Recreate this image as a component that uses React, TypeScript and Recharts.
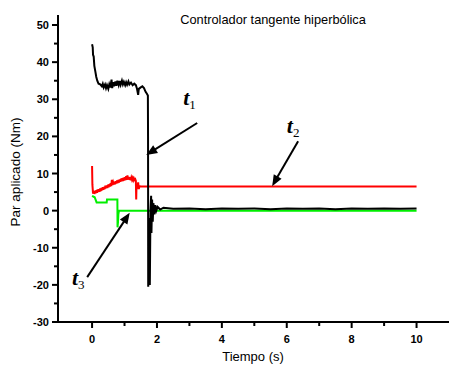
import React from "react";
import { LineChart, Line, XAxis, YAxis, ReferenceLine, ReferenceDot } from "recharts";

// Par aplicado t1 (negro)
const t1Time = [
  0.0, 0.02, 0.03, 0.05, 0.07, 0.1, 0.13, 0.16, 0.2, 0.25,
  0.3, 0.33, 0.36, 0.4, 0.43, 0.46, 0.5, 0.53, 0.56, 0.6,
  0.62, 0.65, 0.68, 0.72, 0.75, 0.78, 0.82, 0.85, 0.88, 0.92,
  0.95, 0.98, 1.02, 1.05, 1.08, 1.12, 1.15, 1.2, 1.25, 1.3,
  1.35, 1.38, 1.42, 1.44, 1.5, 1.55, 1.6, 1.65, 1.69, 1.72,
  1.725, 1.73, 1.74, 1.75, 1.76, 1.78, 1.8, 1.82, 1.83, 1.85,
  1.87, 1.89, 1.92, 1.95, 1.98, 2.02, 2.1, 2.2, 2.5, 3.0,
  3.5, 4.0, 4.5, 5.0, 5.5, 6.0, 6.5, 7.0, 7.5, 8.0,
  8.5, 9.0, 9.5, 10.0,
];
const t1Value = [
  44.8, 44.0, 42.0, 41.5, 39.0, 37.5, 36.0, 35.0, 34.2, 34.0,
  33.5, 34.2, 33.2, 34.0, 33.0, 33.8, 32.8, 34.0, 33.2, 35.3,
  33.0, 34.6, 33.5, 34.8, 33.6, 35.0, 33.8, 34.9, 33.9, 35.0,
  34.0, 34.7, 33.8, 34.6, 33.9, 34.8, 34.0, 34.5, 33.8, 34.2,
  33.8, 33.0, 31.2, 32.8, 33.2, 33.5, 33.0, 32.0, 31.5, 31.0,
  20.0, -20.5, -19.0, -20.0, -2.0, -20.0, 0.0, 4.0, -6.0, 3.0,
  -3.0, 2.0, -1.0, 1.5, 0.0, 1.0, 0.3, 0.8, 0.5, 0.6,
  0.4, 0.6, 0.5, 0.6, 0.4, 0.6, 0.5, 0.6, 0.4, 0.6,
  0.5, 0.6, 0.5, 0.6,
];

// Par aplicado t2 (rojo)
const t2Time = [
  0.0, 0.01, 0.03, 0.05, 0.07, 0.09, 0.11, 0.13, 0.15, 0.17,
  0.19, 0.21, 0.23, 0.25, 0.27, 0.29, 0.31, 0.33, 0.35, 0.37,
  0.39, 0.41, 0.43, 0.45, 0.47, 0.49, 0.51, 0.53, 0.55, 0.57,
  0.59, 0.61, 0.63, 0.65, 0.67, 0.69, 0.71, 0.73, 0.75, 0.77,
  0.79, 0.81, 0.83, 0.85, 0.87, 0.89, 0.91, 0.93, 0.95, 0.97,
  0.99, 1.01, 1.03, 1.05, 1.07, 1.09, 1.11, 1.13, 1.15, 1.17,
  1.19, 1.21, 1.23, 1.25, 1.27, 1.29, 1.31, 1.33, 1.35, 1.36,
  1.37, 1.4, 1.42, 1.44, 1.46, 1.5, 10.0,
];
const t2Value = [
  12.0, 7.0, 4.6, 5.4, 4.5, 5.3, 4.7, 5.5, 4.8, 5.7,
  5.0, 5.8, 5.1, 6.0, 5.3, 6.1, 5.5, 6.3, 5.6, 6.4,
  5.8, 6.7, 6.0, 6.8, 6.1, 7.0, 6.3, 7.1, 6.5, 7.4,
  6.6, 8.3, 6.9, 7.6, 7.0, 7.8, 7.1, 7.9, 7.3, 8.1,
  7.4, 8.3, 7.6, 8.4, 7.8, 8.6, 7.9, 8.7, 8.0, 8.9,
  8.1, 9.0, 8.2, 9.3, 8.3, 9.5, 8.4, 9.1, 8.3, 9.0,
  8.2, 8.9, 8.3, 8.8, 8.2, 8.7, 8.3, 8.5, 8.0, 3.0,
  7.0, 6.5, 7.6, 5.8, 6.6, 6.5, 6.5,
];

// Par aplicado t3 (verde)
const t3Time = [0.0, 0.08, 0.14, 0.45, 0.46, 0.78, 0.785, 0.8, 0.81, 0.83, 10.0];
const t3Value = [4.0, 3.6, 2.2, 2.2, 3.0, 3.0, -4.5, -3.0, -1.0, 0.0, 0.0];

const xTicks = [0, 1, 2, 3, 4, 5, 6, 7, 8, 9, 10];
const yTicks = [-30, -25, -20, -15, -10, -5, 0, 5, 10, 15, 20, 25, 30, 35, 40, 45, 50];

const toPoints = (ts: number[], vs: number[]) => ts.map((t, i) => ({ t, v: vs[i] }));
const seriesT1 = toPoints(t1Time, t1Value);
const seriesT2 = toPoints(t2Time, t2Value);
const seriesT3 = toPoints(t3Time, t3Value);

// Annotation arrows: [from, to] in data units, plus label anchor
const arrows = [
  { name: "1", from: { t: 3.24, v: 23.6 }, to: { t: 1.67, v: 15.0 }, label: { t: 2.81, v: 28.5 } },
  { name: "2", from: { t: 6.35, v: 18.7 }, to: { t: 5.55, v: 6.6 }, label: { t: 6.0, v: 20.8 } },
  { name: "3", from: { t: -0.15, v: -17.9 }, to: { t: 1.16, v: -0.6 }, label: { t: -0.62, v: -20.0 } },
];

const tickFont = "'Liberation Sans', Arial, sans-serif";

const XTick = (props: any) => {
  const { x, y, payload } = props;
  const major = payload.value % 2 === 0;
  return (
    <g>
      <line x1={x} x2={x} y1={y} y2={y + (major ? 6 : 4)} stroke="#000" strokeWidth={2} />
      {major && (
        <text x={x} y={y + 21} textAnchor="middle" fontFamily={tickFont} fontSize={11} fontWeight="bold" fill="#000">
          {payload.value}
        </text>
      )}
    </g>
  );
};

const YTick = (props: any) => {
  const { x, y, payload } = props;
  const major = payload.value % 10 === 0;
  return (
    <g>
      <line x1={x} x2={x - (major ? 6 : 4)} y1={y} y2={y} stroke="#000" strokeWidth={2} />
      {major && (
        <text x={x - 9} y={y + 4} textAnchor="end" fontFamily={tickFont} fontSize={11} fontWeight="bold" fill="#000">
          {payload.value}
        </text>
      )}
    </g>
  );
};

const ArrowShape = (props: any) => {
  const { x1, y1, x2, y2 } = props;
  if ([x1, y1, x2, y2].some((n) => typeof n !== "number" || isNaN(n))) return null;
  const dx = x2 - x1;
  const dy = y2 - y1;
  const len = Math.sqrt(dx * dx + dy * dy);
  const ux = dx / len;
  const uy = dy / len;
  const head = 11;
  const half = 4.5;
  const bx = x2 - ux * head;
  const by = y2 - uy * head;
  const pts = `${x2},${y2} ${bx - uy * half},${by + ux * half} ${bx + uy * half},${by - ux * half}`;
  return (
    <g>
      <line x1={x1} y1={y1} x2={bx + ux * 2} y2={by + uy * 2} stroke="#000" strokeWidth={2} />
      <polygon points={pts} fill="#000" />
    </g>
  );
};

const labelShape = (sub: string) => (props: any) => {
  const { cx, cy } = props;
  return (
    <text x={cx} y={cy} fontFamily="'Liberation Serif', 'Times New Roman', serif" fill="#000">
      <tspan fontSize={22} fontStyle="italic" fontWeight="bold">t</tspan>
      <tspan fontSize={13} dy={4}>{sub}</tspan>
    </text>
  );
};

export default function App() {
  return (
    <div style={{ position: "absolute", left: 0, top: 0, width: 449, height: 370, background: "#fff" }}>
      <LineChart
        width={449}
        height={370}
        margin={{ top: 15, right: 0, left: 0, bottom: 0 }}
      >
        <XAxis
          dataKey="t"
          type="number"
          domain={[-1.05, 11]}
          ticks={xTicks}
          tick={<XTick />}
          tickSize={0}
          tickMargin={0}
          tickLine={false}
          axisLine={{ stroke: "#000", strokeWidth: 2 }}
          height={48}
          allowDataOverflow
          interval={0}
        />
        <YAxis
          dataKey="v"
          type="number"
          domain={[-30, 52.7]}
          ticks={yTicks}
          tick={<YTick />}
          tickSize={0}
          tickMargin={0}
          tickLine={false}
          axisLine={{ stroke: "#000", strokeWidth: 2 }}
          width={58}
          allowDataOverflow
          interval={0}
        />
        <Line data={seriesT2} dataKey="v" stroke="#ff0000" strokeWidth={2} dot={false} isAnimationActive={false} />
        <Line data={seriesT3} dataKey="v" stroke="#00ee00" strokeWidth={2} dot={false} isAnimationActive={false} />
        <Line data={seriesT1} dataKey="v" stroke="#000000" strokeWidth={2} dot={false} isAnimationActive={false} />
        {arrows.map((a) => (
          <ReferenceLine
            key={"arrow" + a.name}
            segment={[{ x: a.from.t, y: a.from.v }, { x: a.to.t, y: a.to.v }]}
            shape={ArrowShape}
            ifOverflow="visible"
          />
        ))}
        {arrows.map((a) => (
          <ReferenceDot
            key={"label" + a.name}
            x={a.label.t}
            y={a.label.v}
            r={0}
            shape={labelShape(a.name)}
            ifOverflow="visible"
          />
        ))}
      </LineChart>
      <div
        style={{
          position: "absolute",
          left: 0,
          width: 546,
          top: 12,
          textAlign: "center",
          fontFamily: tickFont,
          fontSize: 12.8,
          color: "#000",
          whiteSpace: "nowrap",
        }}
      >
        Controlador tangente hiperbólica
      </div>
      <div
        style={{
          position: "absolute",
          left: 0,
          width: 506,
          top: 349,
          textAlign: "center",
          fontFamily: tickFont,
          fontSize: 13,
          color: "#000",
          whiteSpace: "nowrap",
        }}
      >
        Tiempo (s)
      </div>
      <div
        style={{
          position: "absolute",
          left: 15,
          top: 172,
          transform: "translate(-50%, -50%) rotate(-90deg)",
          fontFamily: tickFont,
          fontSize: 13.5,
          color: "#000",
          whiteSpace: "nowrap",
        }}
      >
        Par aplicado (Nm)
      </div>
    </div>
  );
}
